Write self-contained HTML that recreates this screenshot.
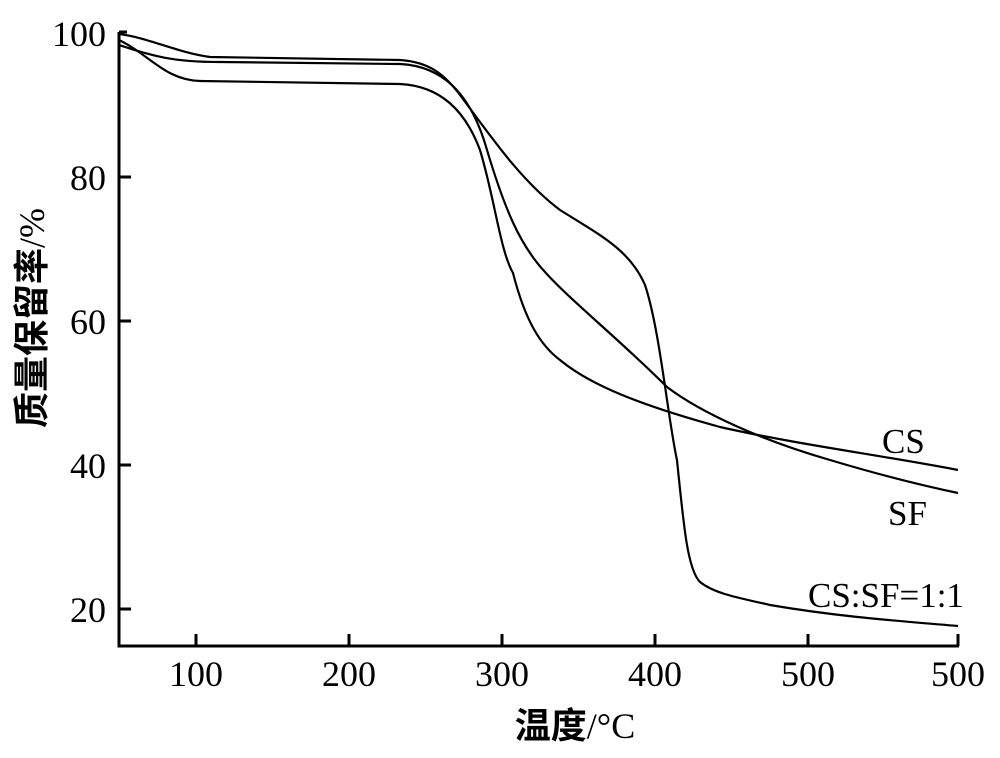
<!DOCTYPE html>
<html><head><meta charset="utf-8"><style>
html,body{margin:0;padding:0;background:#fff;}
svg{display:block;}
text{font-family:"Liberation Serif","Noto Serif CJK SC",serif;fill:#000;}
.cj{font-family:"Noto Sans CJK SC","WenQuanYi Zen Hei",sans-serif;font-weight:bold;}
</style></head><body>
<svg width="1000" height="758" viewBox="0 0 1000 758">
<g stroke="#000" stroke-width="3" fill="none">
<path d="M119,32 V646 H959"/>
<path d="M119,177 H131 M119,321 H131 M119,465 H131 M119,609 H131"/>
<path d="M196,646 V634 M349,646 V634 M502,646 V634 M655,646 V634 M808,646 V634 M958,646 V634"/>
<path d="M119,32 H127"/>
</g>
<g stroke="#000" stroke-width="2.2" fill="none">
<path d="M119,34 C150,38 175,52 210,57 L400,60 C430,62 445,75 460,95 C490,135 520,180 560,210 C600,235 630,250 645,285 C660,330 668,420 677,460 C684,530 688,570 700,582 C715,594 740,598 770,605 C840,617 900,621 958,626"/>
<path d="M119,40 C150,55 165,80 200,81 L400,84 C440,86 465,110 480,150 C495,200 500,250 513,273 C525,320 540,345 560,360 C590,385 640,405 720,427 C800,445 880,455 958,470"/>
<path d="M119,45 C150,55 170,62 220,62 L400,64 C440,66 470,90 487,150 C505,210 520,245 545,272 C570,300 620,340 667,387 C700,412 760,440 830,460 C880,475 920,485 958,493"/>
</g>
<g font-size="36" text-anchor="middle">
<text x="196" y="686">100</text><text x="349" y="686">200</text><text x="502" y="686">300</text><text x="655" y="686">400</text><text x="808" y="686">500</text><text x="958" y="686">500</text>
</g>
<g font-size="36" text-anchor="end">
<text x="106" y="46">100</text><text x="106" y="190">80</text><text x="106" y="334">60</text><text x="106" y="478">40</text><text x="106" y="622">20</text>
</g>
<g font-size="35">
<text x="882" y="453">CS</text>
<text x="888" y="525">SF</text>
<text x="808" y="607">CS:SF=1:1</text>
</g>
<text x="575" y="738" font-size="36" text-anchor="middle"><tspan class="cj">温度</tspan>/°C</text>
<text transform="translate(44,318) rotate(-90)" font-size="36" text-anchor="middle"><tspan class="cj">质量保留率</tspan>/%</text>
</svg>
</body></html>
